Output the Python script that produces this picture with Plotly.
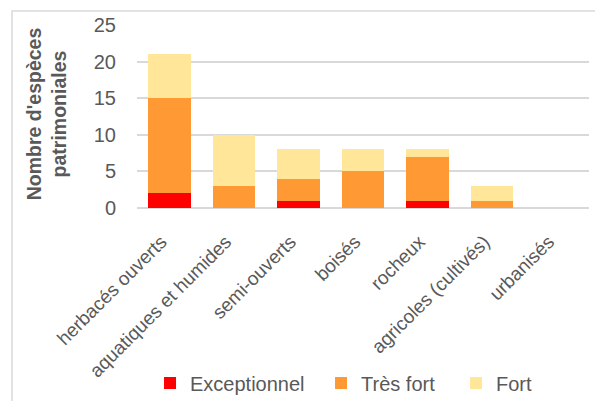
import plotly.graph_objects as go

categories = ["herbacés ouverts", "aquatiques et humides", "semi-ouverts", "boisés",
              "rocheux", "agricoles (cultivés)", "urbanisés"]
exceptionnel = [2, 0, 1, 0, 1, 0, 0]
tres_fort = [13, 3, 3, 5, 6, 1, 0]
fort = [6, 7, 4, 3, 1, 2, 0]

font_family = "Liberation Sans, Arial, sans-serif"
grey_text = "#595959"

fig = go.Figure()
fig.add_trace(go.Bar(name="Exceptionnel", x=categories, y=exceptionnel, marker_color="#FF0000",
                     legendwidth=126))
fig.add_trace(go.Bar(name="Très fort", x=categories, y=tres_fort, marker_color="#FF9933",
                     legendwidth=90))
fig.add_trace(go.Bar(name="Fort", x=categories, y=fort, marker_color="#FFE699"))

fig.update_traces(marker_line_width=0)

# page body has an 8px margin, so the figure is 8px smaller than the window
fig.update_layout(
    width=595, height=393,
    margin=dict(l=129, r=14, t=17, b=193, autoexpand=False),
    barmode="stack",
    bargap=0.34,
    plot_bgcolor="white",
    paper_bgcolor="white",
    font=dict(family=font_family, size=20, color=grey_text),
    showlegend=True,
    legend=dict(orientation="h", xref="container", yref="container",
                x=0.2387, xanchor="left", y=0.046, yanchor="middle",
                font=dict(size=20, color=grey_text), traceorder="normal"),
    xaxis=dict(tickangle=-45, showgrid=False, showline=False, ticks="", automargin=False,
               ticklabelshift=-8, ticklabelstandoff=18,
               tickfont=dict(size=19, color=grey_text)),
    yaxis=dict(range=[0, 25], dtick=5, showgrid=True, gridcolor="#D9D9D9", gridwidth=1.5,
               zeroline=True, zerolinecolor="#D9D9D9", zerolinewidth=1.5, automargin=False,
               ticklabelstandoff=20, tickfont=dict(size=20, color=grey_text)),
)

fig.add_annotation(
    text="<b>Nombre d'espèces<br>patrimoniales</b>",
    xref="paper", yref="paper", x=-0.2, y=0.515, xanchor="center", yanchor="middle",
    textangle=-90, showarrow=False, font=dict(size=19.5, color=grey_text),
)

# chart frame
fig.add_shape(type="rect", xref="paper", yref="paper",
              x0=-0.2765, x1=1.022, y0=-1.1, y1=1.0765,
              line=dict(color="#D9D9D9", width=1.5), fillcolor="rgba(0,0,0,0)", layer="below")

fig.write_html("out.html")
